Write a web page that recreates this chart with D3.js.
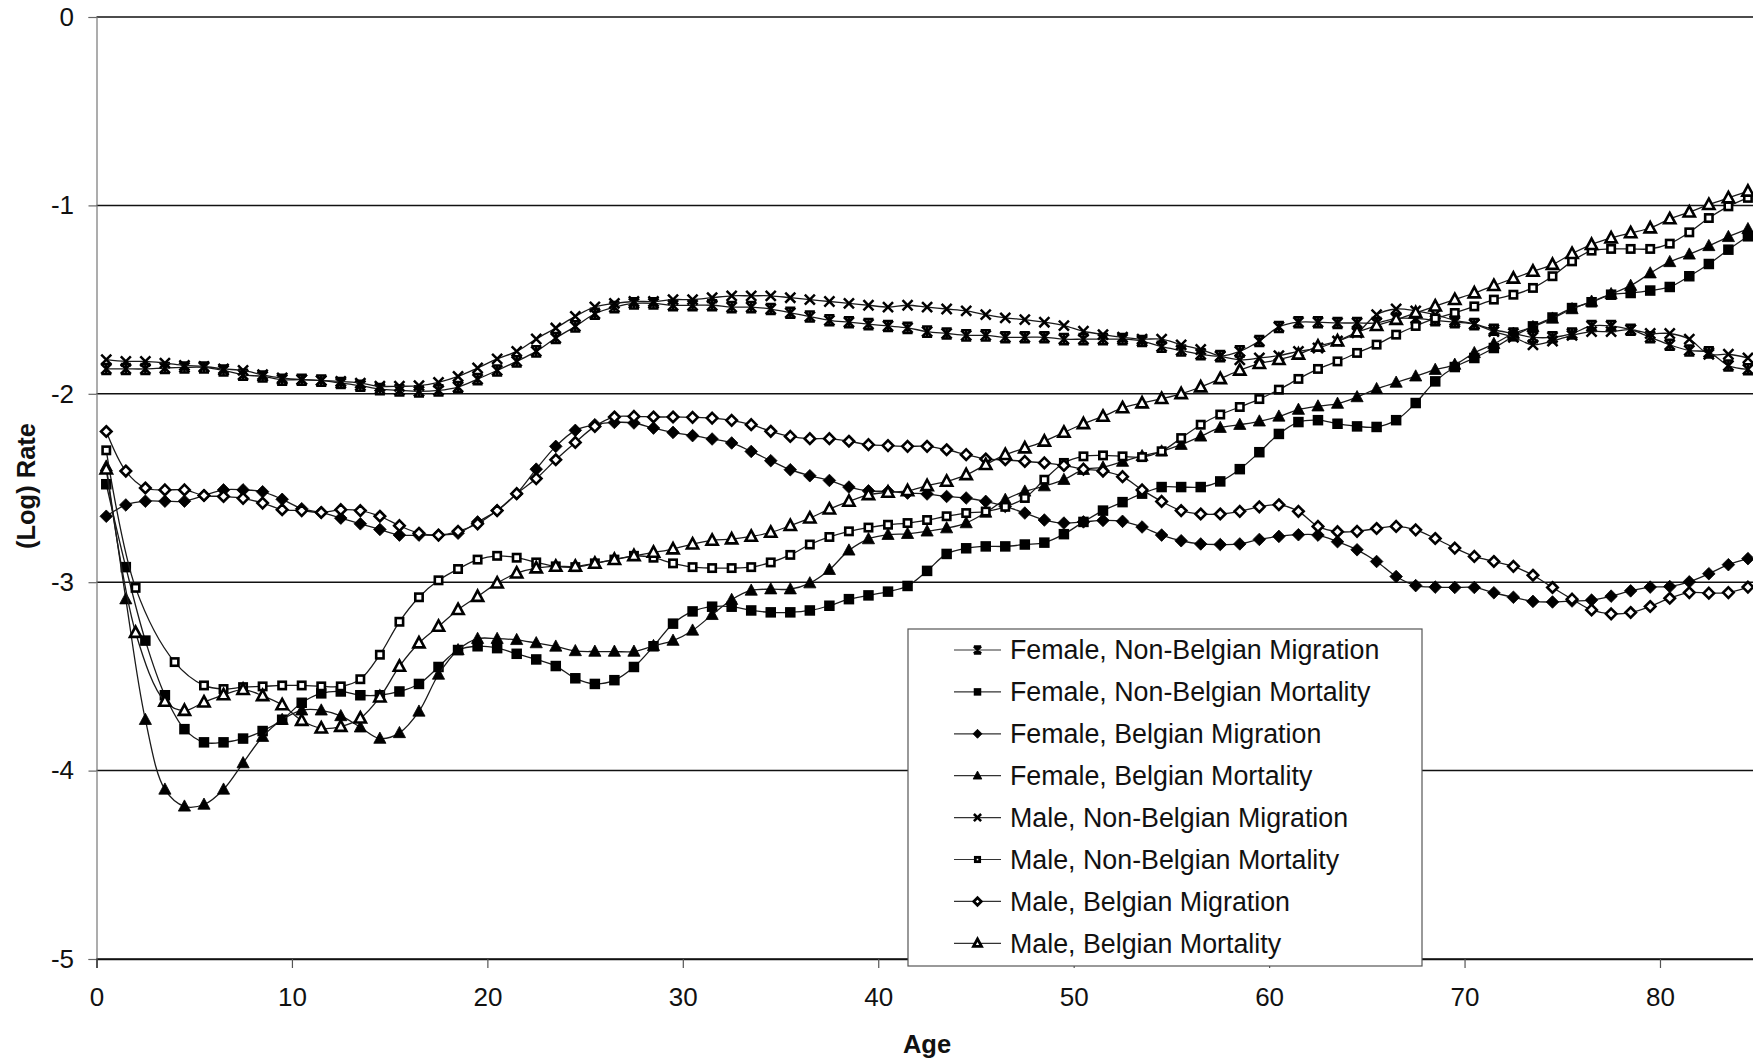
<!DOCTYPE html>
<html><head><meta charset="utf-8">
<script src="https://cdn.jsdelivr.net/npm/d3@7"></script>
<style>
html,body{margin:0;padding:0;background:#fff;}
svg{display:block;font-family:"Liberation Sans",Arial,Helvetica,sans-serif;}
</style></head><body>
<svg id="chart" width="1753" height="1062"></svg>
<script>
// ---------- data ----------
const ages = [0.5,1.5,2.5,3.5,4.5,5.5,6.5,7.5,8.5,9.5,10.5,11.5,12.5,13.5,14.5,15.5,16.5,17.5,18.5,19.5,
  20.5,21.5,22.5,23.5,24.5,25.5,26.5,27.5,28.5,29.5,30.5,31.5,32.5,33.5,34.5,35.5,36.5,37.5,38.5,39.5,
  40.5,41.5,42.5,43.5,44.5,45.5,46.5,47.5,48.5,49.5,50.5,51.5,52.5,53.5,54.5,55.5,56.5,57.5,58.5,59.5,
  60.5,61.5,62.5,63.5,64.5,65.5,66.5,67.5,68.5,69.5,70.5,71.5,72.5,73.5,74.5,75.5,76.5,77.5,78.5,79.5,
  80.5,81.5,82.5,83.5,84.5];
const agesMaleNBMort = [0.5, 2, 4].concat(ages.slice(5));
const agesMaleBMort = [0.5, 2, 3.5].concat(ages.slice(4));

const xTicks = [0,10,20,30,40,50,60,70,80];
const yTicks = [0,-1,-2,-3,-4,-5];
const xTitle = "Age";
const yTitle = "(Log) Rate";

const seriesNames = [
  "Female, Non-Belgian Migration",
  "Female, Non-Belgian Mortality",
  "Female, Belgian Migration",
  "Female, Belgian Mortality",
  "Male, Non-Belgian Migration",
  "Male, Non-Belgian Mortality",
  "Male, Belgian Migration",
  "Male, Belgian Mortality"
];
const seriesMarkers = ["star","sqFill","diaFill","triFill","x","sqOpen","diaOpen","triOpen"];

const femNBMig = [-1.868,-1.868,-1.868,-1.863,-1.860,-1.860,-1.876,-1.899,-1.908,-1.925,
 -1.925,-1.930,-1.943,-1.957,-1.975,-1.982,-1.987,-1.982,-1.964,-1.922,
 -1.876,-1.828,-1.775,-1.704,-1.642,-1.575,-1.540,-1.520,-1.520,-1.530,
 -1.530,-1.530,-1.540,-1.540,-1.550,-1.570,-1.590,-1.610,-1.620,-1.630,
 -1.640,-1.650,-1.670,-1.680,-1.690,-1.690,-1.700,-1.700,-1.700,-1.710,
 -1.710,-1.710,-1.710,-1.720,-1.750,-1.770,-1.790,-1.800,-1.775,-1.720,
 -1.645,-1.620,-1.620,-1.624,-1.624,-1.624,-1.600,-1.600,-1.610,-1.620,
 -1.630,-1.660,-1.680,-1.700,-1.700,-1.680,-1.640,-1.640,-1.660,-1.700,
 -1.740,-1.770,-1.780,-1.850,-1.870];

const femNBMort = [-2.48,-2.92,-3.31,-3.60,-3.78,-3.85,-3.85,-3.83,-3.79,-3.73,
 -3.64,-3.59,-3.58,-3.60,-3.60,-3.58,-3.54,-3.45,-3.36,-3.34,
 -3.35,-3.38,-3.41,-3.445,-3.51,-3.54,-3.52,-3.45,-3.34,-3.22,
 -3.155,-3.13,-3.13,-3.15,-3.16,-3.16,-3.15,-3.125,-3.09,-3.07,
 -3.05,-3.02,-2.94,-2.85,-2.82,-2.81,-2.81,-2.80,-2.79,-2.745,
 -2.68,-2.62,-2.575,-2.53,-2.495,-2.495,-2.495,-2.465,-2.40,-2.31,
 -2.213,-2.15,-2.14,-2.159,-2.173,-2.176,-2.14,-2.049,-1.934,-1.858,
 -1.81,-1.757,-1.695,-1.642,-1.595,-1.545,-1.514,-1.474,-1.465,-1.452,
 -1.433,-1.376,-1.311,-1.235,-1.164];

const femBMig = [-2.65,-2.59,-2.57,-2.57,-2.57,-2.54,-2.51,-2.51,-2.52,-2.56,
 -2.61,-2.63,-2.66,-2.69,-2.72,-2.75,-2.75,-2.75,-2.74,-2.68,
 -2.62,-2.53,-2.40,-2.279,-2.194,-2.164,-2.152,-2.155,-2.182,-2.205,
 -2.222,-2.24,-2.261,-2.306,-2.355,-2.403,-2.435,-2.46,-2.495,-2.515,
 -2.518,-2.527,-2.532,-2.545,-2.553,-2.571,-2.598,-2.633,-2.67,-2.686,
 -2.68,-2.672,-2.677,-2.707,-2.75,-2.78,-2.797,-2.80,-2.797,-2.773,
 -2.757,-2.748,-2.75,-2.785,-2.828,-2.89,-2.97,-3.018,-3.026,-3.028,
 -3.028,-3.056,-3.08,-3.102,-3.105,-3.10,-3.095,-3.074,-3.046,-3.026,
 -3.023,-2.998,-2.955,-2.907,-2.875];

const femBMort = [-2.385,-3.09,-3.73,-4.10,-4.19,-4.18,-4.10,-3.96,-3.82,-3.73,
 -3.68,-3.68,-3.71,-3.77,-3.83,-3.80,-3.686,-3.49,-3.36,-3.30,
 -3.30,-3.306,-3.323,-3.341,-3.365,-3.368,-3.368,-3.368,-3.338,-3.31,
 -3.256,-3.173,-3.093,-3.044,-3.037,-3.037,-3.005,-2.934,-2.831,-2.771,
 -2.748,-2.743,-2.73,-2.713,-2.686,-2.63,-2.562,-2.518,-2.49,-2.456,
 -2.403,-2.39,-2.36,-2.33,-2.305,-2.27,-2.226,-2.18,-2.164,-2.146,
 -2.12,-2.084,-2.066,-2.052,-2.017,-1.974,-1.94,-1.907,-1.872,-1.845,
 -1.783,-1.735,-1.68,-1.645,-1.60,-1.55,-1.51,-1.47,-1.426,-1.36,
 -1.30,-1.26,-1.215,-1.167,-1.125];

const maleNBMig = [-1.819,-1.828,-1.828,-1.837,-1.849,-1.855,-1.868,-1.876,-1.899,-1.916,
 -1.925,-1.929,-1.934,-1.943,-1.960,-1.960,-1.957,-1.939,-1.908,-1.863,
 -1.815,-1.775,-1.709,-1.651,-1.589,-1.539,-1.520,-1.510,-1.510,-1.500,
 -1.500,-1.490,-1.480,-1.480,-1.480,-1.490,-1.500,-1.510,-1.520,-1.530,
 -1.540,-1.530,-1.540,-1.550,-1.560,-1.580,-1.597,-1.606,-1.620,-1.638,
 -1.668,-1.686,-1.700,-1.710,-1.710,-1.740,-1.765,-1.800,-1.820,-1.810,
 -1.797,-1.775,-1.757,-1.720,-1.677,-1.580,-1.550,-1.560,-1.580,-1.610,
 -1.630,-1.670,-1.700,-1.740,-1.720,-1.690,-1.670,-1.670,-1.660,-1.680,
 -1.680,-1.710,-1.790,-1.790,-1.810];

const maleNBMort = [-2.30,-3.03,-3.424,-3.548,-3.567,-3.557,-3.553,-3.548,-3.548,-3.553,
 -3.553,-3.515,-3.385,-3.21,-3.08,-2.99,-2.93,-2.88,-2.86,-2.87,
 -2.895,-2.916,-2.92,-2.90,-2.88,-2.86,-2.87,-2.90,-2.92,-2.925,
 -2.925,-2.92,-2.895,-2.855,-2.80,-2.76,-2.73,-2.71,-2.695,-2.686,
 -2.67,-2.65,-2.633,-2.625,-2.60,-2.553,-2.456,-2.367,-2.332,-2.327,
 -2.332,-2.336,-2.305,-2.235,-2.164,-2.11,-2.07,-2.028,-1.978,-1.921,
 -1.868,-1.828,-1.783,-1.739,-1.686,-1.64,-1.60,-1.571,-1.536,-1.50,
 -1.474,-1.438,-1.376,-1.297,-1.24,-1.231,-1.231,-1.231,-1.203,-1.143,
 -1.067,-1.005,-0.96];

const maleBMig = [-2.20,-2.41,-2.50,-2.51,-2.51,-2.54,-2.545,-2.555,-2.58,-2.615,
 -2.62,-2.63,-2.615,-2.62,-2.65,-2.70,-2.74,-2.75,-2.73,-2.69,
 -2.62,-2.53,-2.45,-2.35,-2.258,-2.173,-2.123,-2.12,-2.123,-2.123,
 -2.125,-2.129,-2.141,-2.164,-2.199,-2.226,-2.238,-2.238,-2.252,-2.27,
 -2.275,-2.279,-2.279,-2.297,-2.323,-2.346,-2.35,-2.359,-2.367,-2.38,
 -2.40,-2.41,-2.44,-2.51,-2.571,-2.62,-2.638,-2.638,-2.624,-2.60,
 -2.589,-2.624,-2.704,-2.732,-2.73,-2.715,-2.704,-2.722,-2.768,-2.819,
 -2.863,-2.89,-2.916,-2.963,-3.028,-3.09,-3.147,-3.168,-3.161,-3.129,
 -3.085,-3.055,-3.058,-3.055,-3.026];

const maleBMort = [-2.40,-3.267,-3.633,-3.681,-3.637,-3.598,-3.57,-3.603,-3.651,-3.734,
 -3.775,-3.766,-3.722,-3.61,-3.447,-3.323,-3.235,-3.146,-3.076,-3.005,
 -2.952,-2.925,-2.916,-2.916,-2.90,-2.88,-2.86,-2.842,-2.824,-2.798,
 -2.778,-2.771,-2.757,-2.736,-2.70,-2.66,-2.612,-2.571,-2.536,-2.523,
 -2.515,-2.488,-2.465,-2.43,-2.376,-2.323,-2.288,-2.252,-2.205,-2.159,
 -2.12,-2.075,-2.049,-2.026,-2.00,-1.964,-1.92,-1.875,-1.84,-1.819,
 -1.79,-1.748,-1.72,-1.672,-1.638,-1.606,-1.57,-1.535,-1.50,-1.465,
 -1.426,-1.387,-1.35,-1.314,-1.256,-1.208,-1.173,-1.146,-1.12,-1.072,
 -1.036,-0.996,-0.96,-0.925];

const seriesAges = [ages, ages, ages, ages, ages, agesMaleNBMort, ages, agesMaleBMort];
const seriesValues = [femNBMig, femNBMort, femBMig, femBMort, maleNBMig, maleNBMort, maleBMig, maleBMort];

// ---------- chart ----------
const W = 1753, H = 1062;
const FONT = '"Liberation Sans", Arial, Helvetica, sans-serif';
const svg = d3.select("#chart");
svg.append("rect").attr("width", W).attr("height", H).attr("fill", "#fff");

const x = d3.scaleLinear().domain([0, 85]).range([96.5, 1757.7]);
const y = d3.scaleLinear().domain([-5, 0]).range([959, 17]);

// gridlines
svg.append("g").selectAll("line").data(yTicks).join("line")
  .attr("x1", x(0)).attr("x2", W)
  .attr("y1", d => y(d)).attr("y2", d => y(d))
  .attr("stroke", "#111").attr("stroke-width", 1.5);

// y axis
const yAxis = svg.append("g").attr("transform", `translate(${x(0)},0)`)
  .call(d3.axisLeft(y).tickValues(yTicks).tickSize(8).tickPadding(14.5).tickFormat(d => String(d)));
yAxis.select(".domain").attr("stroke", "#777").attr("stroke-width", 1.2);
yAxis.selectAll(".tick line").attr("stroke", "#666").attr("stroke-width", 1.2);
yAxis.selectAll(".tick text").attr("font-size", 26).attr("fill", "#111").attr("font-family", FONT);

// x axis
const xAxis = svg.append("g").attr("transform", `translate(0,${y(-5)})`)
  .call(d3.axisBottom(x).tickValues(xTicks).tickSize(9).tickPadding(19.5).tickFormat(d => String(d)));
xAxis.select(".domain").attr("stroke", "#111").attr("stroke-width", 1.5);
xAxis.selectAll(".tick line").attr("stroke", "#555").attr("stroke-width", 1.2);
xAxis.selectAll(".tick text").attr("font-size", 26).attr("fill", "#111").attr("font-family", FONT);

// titles
svg.append("text").attr("x", 927).attr("y", 1053).attr("text-anchor", "middle")
  .attr("font-size", 25.5).attr("font-weight", "bold").attr("fill", "#111").text(xTitle);
svg.append("text").attr("transform", "translate(35,486) rotate(-90)").attr("text-anchor", "middle")
  .attr("font-size", 25.5).attr("font-weight", "bold").attr("fill", "#111").text(yTitle);

// markers
function drawMarker(g, type, cx, cy, s, sw) {
  const h = s / 2;
  if (type === "sqFill") {
    g.append("rect").attr("x", cx - h).attr("y", cy - h).attr("width", s).attr("height", s).attr("fill", "#000");
  } else if (type === "sqOpen") {
    const so = s * 0.95;
    g.append("rect").attr("x", cx - so / 2 + sw / 2).attr("y", cy - so / 2 + sw / 2).attr("width", so - sw).attr("height", so - sw)
      .attr("fill", "#fff").attr("stroke", "#000").attr("stroke-width", sw);
  } else if (type === "triFill" || type === "triOpen") {
    const k = type === "triFill" ? 1 : 0.92;
    const p = `M${cx},${cy - s * 0.62 * k}L${cx + s * 0.58 * k},${cy + s * 0.45 * k}L${cx - s * 0.58 * k},${cy + s * 0.45 * k}Z`;
    g.append("path").attr("d", p)
      .attr("fill", type === "triFill" ? "#000" : "#fff")
      .attr("stroke", "#000").attr("stroke-width", type === "triFill" ? 0.8 : sw).attr("stroke-linejoin", "miter");
  } else if (type === "diaFill" || type === "diaOpen") {
    const r = type === "diaFill" ? s * 0.6 : s * 0.5;
    const p = `M${cx},${cy - r}L${cx + r},${cy}L${cx},${cy + r}L${cx - r},${cy}Z`;
    g.append("path").attr("d", p)
      .attr("fill", type === "diaFill" ? "#000" : "#fff")
      .attr("stroke", "#000").attr("stroke-width", type === "diaFill" ? 0.8 : sw);
  } else if (type === "x") {
    const r = s * 0.48;
    g.append("path").attr("d", `M${cx - r},${cy - r}L${cx + r},${cy + r}M${cx - r},${cy + r}L${cx + r},${cy - r}`)
      .attr("stroke", "#000").attr("stroke-width", 2.5).attr("fill", "none");
  } else if (type === "star") {
    const r = s * 0.48;
    g.append("path").attr("d", `M${cx - r},${cy - r}L${cx + r},${cy + r}M${cx - r},${cy + r}L${cx + r},${cy - r}M${cx - r},${cy - r}L${cx + r},${cy - r}M${cx - r},${cy + r}L${cx + r},${cy + r}M${cx},${cy - r}L${cx},${cy + r}`)
      .attr("stroke", "#000").attr("stroke-width", 2.5).attr("fill", "none");
  }
}

const line = d3.line().x(d => x(d[0])).y(d => y(d[1])).curve(d3.curveCatmullRom.alpha(0.5));
const plot = svg.append("g");
seriesValues.forEach((vals, i) => {
  const pts = vals.map((v, k) => [seriesAges[i][k], v]);
  const g = plot.append("g");
  g.append("path").attr("d", line(pts)).attr("fill", "none").attr("stroke", "#1a1a1a").attr("stroke-width", 1.3);
  pts.forEach(p => drawMarker(g, seriesMarkers[i], x(p[0]), y(p[1]), 10.5, 2.6));
});

// legend
const lg = svg.append("g");
lg.append("rect").attr("x", 908).attr("y", 629).attr("width", 514).attr("height", 337)
  .attr("fill", "#fff").attr("stroke", "#555").attr("stroke-width", 1.2);
seriesNames.forEach((name, i) => {
  const cy = 650 + i * 41.9;
  lg.append("line").attr("x1", 954).attr("x2", 1001).attr("y1", cy).attr("y2", cy)
    .attr("stroke", "#333").attr("stroke-width", 1.2);
  drawMarker(lg, seriesMarkers[i], 977.5, cy, 7.5, 2.8);
  lg.append("text").attr("x", 1010).attr("y", cy + 9.3).attr("font-size", 26.8).attr("fill", "#111").text(name);
});
</script>
</body></html>
